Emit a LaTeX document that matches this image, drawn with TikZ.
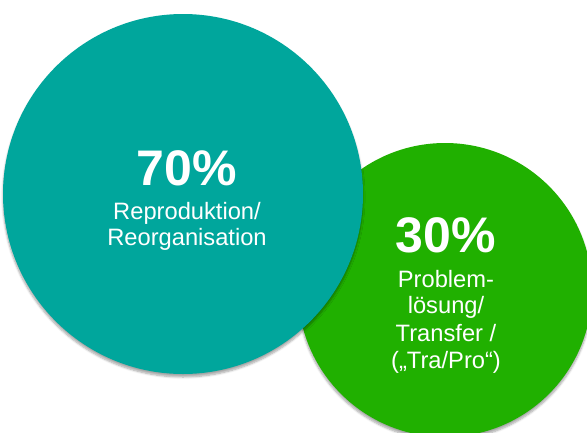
\documentclass[tikz,border=0pt]{standalone}
\usepackage{fontspec}
\setmainfont{Liberation Sans}
\usetikzlibrary{positioning,shadows.blur}
\definecolor{circteal}{RGB}{0,166,156}
\definecolor{circgreen}{RGB}{32,176,0}

\begin{document}
\begin{tikzpicture}[x=1pt,y=-1pt,
    roundnode/.style={circle, inner sep=0pt, blur shadow={shadow xshift=0pt, shadow yshift=-3pt, shadow blur steps=6, shadow opacity=35}},
    bignum/.style={text=white, font=\fontsize{50}{50}\selectfont\bfseries, anchor=base, inner sep=0pt},
    smalltxt/.style={text=white, font=\fontsize{23.7}{23.7}\selectfont, anchor=base, inner sep=0pt},]
    \clip (0,0) rectangle (587,432);
    % circles
    \node[roundnode, fill=circgreen, minimum size=294pt] (tra) at (445,290) {};
    \node[roundnode, fill=circteal, minimum size=360pt]  (rep) at (183,194) {};
    % labels
    \node[bignum]   (p70) at (187,185)   {70\%};
    \node[smalltxt] (r1)  at (187,219)   {Reproduktion/};
    \node[smalltxt] (r2)  at (187,245.5) {Reorganisation};
    \node[bignum]   (p30) at (446,252)   {30\%};
    \node[smalltxt] (t1)  at (446,287)   {Problem-};
    \node[smalltxt] (t2)  at (446,313.5) {lösung/};
    \node[smalltxt] (t3)  at (446,341)   {Transfer /};
    \node[smalltxt] (t4)  at (446,368.5) {(„Tra/Pro“)};
\end{tikzpicture}
\end{document}
